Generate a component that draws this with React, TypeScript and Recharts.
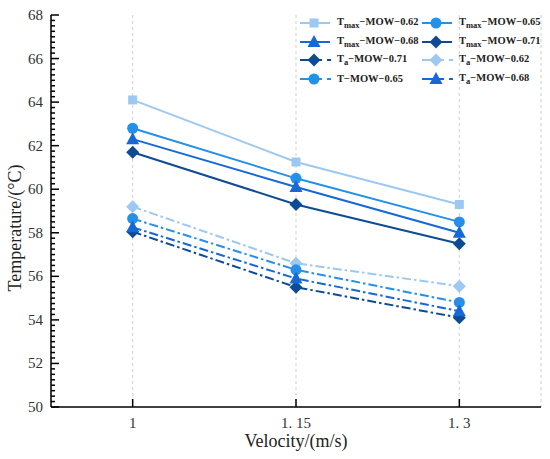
import React from "react";
import { CartesianGrid, Line, LineChart, XAxis, YAxis } from "recharts";

if (typeof document !== "undefined") document.body.style.margin = "0";

const velocities = [1, 1.15, 1.3];
const tmax062 = [64.1, 61.25, 59.3];
const tmax065 = [62.8, 60.5, 58.5];
const tmax068 = [62.3, 60.1, 58.0];
const tmax071 = [61.7, 59.3, 57.5];
const ta062 = [59.2, 56.6, 55.55];
const ta065 = [58.65, 56.3, 54.8];
const ta068 = [58.25, 55.9, 54.4];
const ta071 = [58.05, 55.5, 54.1];

const xTicks = [1, 1.15, 1.3];
const xTickLabels = ["1", "1. 15", "1. 3"];
const yMajor = [50, 52, 54, 56, 58, 60, 62, 64, 66, 68];

const yTicks: number[] = [];
for (let v = 50; v <= 68.001; v += 0.25) yTicks.push(Math.round(v * 100) / 100);

const data = velocities.map((v, i) => ({
  v,
  tmax062: tmax062[i],
  tmax065: tmax065[i],
  tmax068: tmax068[i],
  tmax071: tmax071[i],
  ta062: ta062[i],
  ta065: ta065[i],
  ta068: ta068[i],
  ta071: ta071[i],
}));

const C62 = "#9dc8f2";
const C65 = "#2590ea";
const C68 = "#1568d6";
const C71 = "#0d4c94";
const DASH = "9 3 2.5 3";
const FONT = "'Liberation Serif', 'Times New Roman', 'DejaVu Serif', serif";

type Shape = "square" | "circle" | "triangle" | "diamond";

function Marker({ shape, cx, cy, color }: { shape: Shape; cx: number; cy: number; color: string }) {
  if (shape === "square") return <rect x={cx - 4.5} y={cy - 4.5} width={9} height={9} fill={color} />;
  if (shape === "circle") return <circle cx={cx} cy={cy} r={5.5} fill={color} />;
  if (shape === "triangle")
    return <polygon points={`${cx},${cy - 7} ${cx + 6.5},${cy + 5} ${cx - 6.5},${cy + 5}`} fill={color} />;
  return <polygon points={`${cx},${cy - 6.5} ${cx + 6.5},${cy} ${cx},${cy + 6.5} ${cx - 6.5},${cy}`} fill={color} />;
}

const dotFor = (shape: Shape, color: string) => (p: any) =>
  <Marker key={p.index} shape={shape} cx={p.cx} cy={p.cy} color={color} />;

const series = [
  { key: "tmax062", sub: "max", tail: "−MOW−0.62", color: C62, shape: "square" as Shape, dash: false },
  { key: "tmax065", sub: "max", tail: "−MOW−0.65", color: C65, shape: "circle" as Shape, dash: false },
  { key: "tmax068", sub: "max", tail: "−MOW−0.68", color: C68, shape: "triangle" as Shape, dash: false },
  { key: "tmax071", sub: "max", tail: "−MOW−0.71", color: C71, shape: "diamond" as Shape, dash: false },
  { key: "ta071", sub: "a", tail: "−MOW−0.71", color: C71, shape: "diamond" as Shape, dash: true },
  { key: "ta062", sub: "a", tail: "−MOW−0.62", color: C62, shape: "diamond" as Shape, dash: true },
  { key: "ta065", sub: "", tail: "−MOW−0.65", color: C65, shape: "circle" as Shape, dash: true },
  { key: "ta068", sub: "a", tail: "−MOW−0.68", color: C68, shape: "triangle" as Shape, dash: true },
];

function YTick(props: any) {
  const { x, y, payload } = props;
  const major = yMajor.includes(payload.value);
  return (
    <g>
      <line x1={x} x2={x + (major ? 8 : 4)} y1={y} y2={y} stroke="#000" strokeWidth={1.5} />
      {major && (
        <text x={x - 8} y={y} dy={5} textAnchor="end" fontSize={15} style={{ fontFamily: FONT }} fill="#333">
          {payload.value}
        </text>
      )}
    </g>
  );
}

function XTick(props: any) {
  const { x, y, payload } = props;
  const idx = xTicks.indexOf(payload.value);
  return (
    <g>
      <line x1={x} x2={x} y1={y} y2={y - 8} stroke="#000" strokeWidth={1.5} />
      <text x={x} y={y + 21} textAnchor="middle" fontSize={15} style={{ fontFamily: FONT }} fill="#333">
        {xTickLabels[idx]}
      </text>
    </g>
  );
}

function YTitle(props: any) {
  const vb = props.viewBox;
  const cy = vb.y + vb.height / 2 + 17;
  return (
    <text x={21} y={cy} transform={`rotate(-90 21 ${cy})`} textAnchor="middle" fontSize={18} style={{ fontFamily: FONT }} fill="#222">
      Temperature/(°C)
    </text>
  );
}

function XTitle(props: any) {
  const vb = props.viewBox;
  return (
    <text x={vb.x + vb.width / 2} y={447} textAnchor="middle" fontSize={18} style={{ fontFamily: FONT }} fill="#222">
      Velocity/(m/s)
    </text>
  );
}

function LegendBox() {
  return (
    <div
      style={{
        position: "absolute",
        top: 14,
        left: 300,
        display: "grid",
        gridTemplateColumns: "122px 112px",
        fontFamily: FONT,
        fontSize: 10.5,
        fontWeight: "bold",
        color: "#222",
      }}
    >
      {series.map((s) => (
        <div key={s.key} style={{ display: "flex", alignItems: "center", height: 18.5 }}>
          <svg width={34} height={16} style={{ flexShrink: 0 }}>
            {s.dash ? (
              <>
                <line x1={0} x2={22} y1={8} y2={8} stroke={s.color} strokeWidth={2} />
                <line x1={27} x2={31} y1={8} y2={8} stroke={s.color} strokeWidth={2} />
              </>
            ) : (
              <line x1={0} x2={30} y1={8} y2={8} stroke={s.color} strokeWidth={2} />
            )}
            <Marker shape={s.shape} cx={14} cy={8} color={s.color} />
          </svg>
          <span style={{ marginLeft: 3, whiteSpace: "nowrap" }}>
            T{s.sub && <sub style={{ fontSize: 8.5 }}>{s.sub}</sub>}
            {s.tail}
          </span>
        </div>
      ))}
    </div>
  );
}

export default function App() {
  return (
    <div style={{ position: "relative", width: 550, height: 459 }}>
      <LineChart width={550} height={459} data={data} margin={{ top: 15, right: 9, left: 0, bottom: 0 }}>
        <CartesianGrid vertical horizontal={false} stroke="#cfcfcf" strokeDasharray="3 3" />
        <XAxis
          dataKey="v"
          type="number"
          domain={[0.925, 1.375]}
          ticks={xTicks}
          height={52}
          tickSize={0}
          tickMargin={0}
          tick={<XTick />}
          axisLine={{ stroke: "#000", strokeWidth: 1.5 }}
          label={<XTitle />}
        />
        <XAxis xAxisId="top" orientation="top" type="number" domain={[0.925, 1.375]} height={0} tick={false} tickLine={false} axisLine={{ stroke: "#000", strokeWidth: 1.5 }} />
        <YAxis
          type="number"
          domain={[50, 68]}
          ticks={yTicks}
          interval={0}
          width={51}
          tickSize={0}
          tickMargin={0}
          tick={<YTick />}
          axisLine={{ stroke: "#000", strokeWidth: 1.5 }}
          label={<YTitle />}
        />
        <YAxis yAxisId="right" orientation="right" width={0} tick={false} tickLine={false} axisLine={{ stroke: "#000", strokeWidth: 1.5 }} />
        {series.map((s) => (
          <Line
            key={s.key}
            dataKey={s.key}
            stroke={s.color}
            strokeWidth={2}
            strokeDasharray={s.dash ? DASH : undefined}
            dot={dotFor(s.shape, s.color)}
            activeDot={false}
            isAnimationActive={false}
          />
        ))}
      </LineChart>
      <LegendBox />
    </div>
  );
}
